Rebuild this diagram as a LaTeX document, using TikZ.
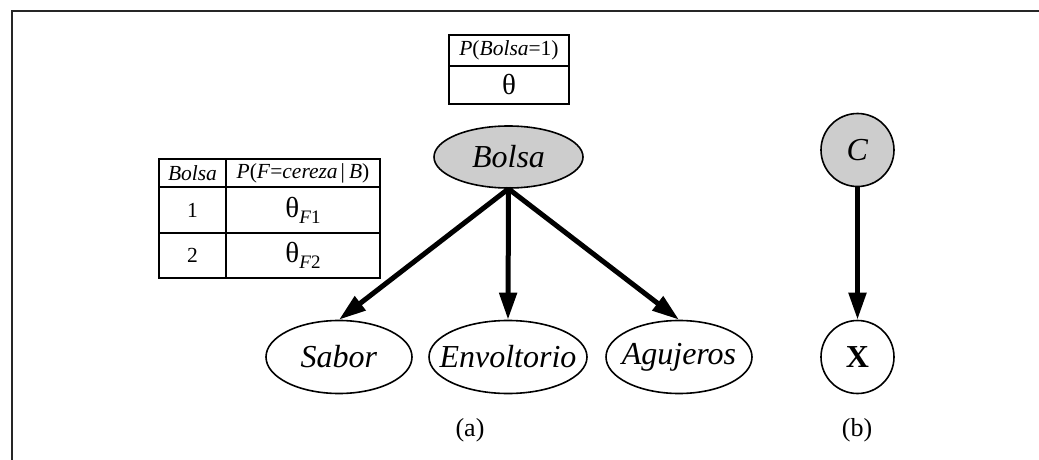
\documentclass[tikz,border=0pt]{standalone}
\usepackage{fontspec}
\setmainfont{Liberation Serif}
\usetikzlibrary{arrows.meta,shapes.geometric}
\definecolor{nodegray}{RGB}{205,205,205}
\tikzset{
  varnode/.style={ellipse,draw=black,line width=1.6pt,inner sep=0pt,minimum height=73pt,
    font=\fontsize{32}{36}\selectfont},
  cell/.style={rectangle,draw=black,line width=1.2pt,inner sep=0pt,font=\fontsize{21.5}{24}\selectfont},
  thetacell/.style={cell,font=\fontsize{29}{30}\selectfont},
  bigarrow/.style={line width=5pt,-{Triangle[length=27pt,width=17pt]}},
  sublabel/.style={font=\fontsize{26}{28}\selectfont},
  frameline/.style={line width=1.6pt,draw=black!85}
}
\newcommand{\thsub}[1]{θ\raisebox{-6pt}{\fontsize{19}{20}\selectfont\textit{F}#1}}
\newcommand{\nolen}[1]{\makebox[0pt][c]{#1}}
\begin{document}
\begin{tikzpicture}[x=1pt,y=-1pt]
\useasboundingbox (0,0) rectangle (1039,460);
\coordinate (fa) at (12,460);
\coordinate (fb) at (12,11);
\coordinate (fc) at (1039,11);
\draw[frameline] (fa) -- (fb) -- (fc);

% top table
\node[cell,minimum width=120pt,minimum height=31pt] (t1) at (509,50.5) {\textit{P}(\textit{Bolsa}=1)};
\node[thetacell,minimum width=120pt,minimum height=38pt] (t2) at (509,85) {θ};

% left table
\node[cell,minimum width=67pt,minimum height=28pt] (h1) at (192.5,173) {\textit{Bolsa}};
\node[cell,minimum width=154pt,minimum height=28pt] (h2) at (303,173) {\textit{P}(\textit{F}=\textit{cereza}\hspace{3pt}|\hspace{4pt}\textit{B})};
\node[cell,minimum width=67pt,minimum height=46pt] (r11) at (192.5,210) {1};
\node[thetacell,minimum width=154pt,minimum height=46pt] (r12) at (303,210) {\thsub{1}};
\node[cell,minimum width=67pt,minimum height=45pt] (r21) at (192.5,255.5) {2};
\node[thetacell,minimum width=154pt,minimum height=45pt] (r22) at (303,255.5) {\thsub{2}};

% network (a)
\node[varnode,fill=nodegray,minimum width=149pt,minimum height=62pt] (bolsa) at (508.5,157) {\nolen{\textit{Bolsa}}};
\node[varnode,minimum width=146pt] (sabor) at (339,357) {\nolen{\textit{Sabor}}};
\node[varnode,minimum width=158pt] (env) at (508,357) {\nolen{\textit{Envoltorio}}};
\node[varnode,minimum width=146pt] (agu) at (679,357) {\nolen{\textit{Agujeros}}};
\draw[bigarrow] (bolsa.south) -- (sabor.north);
\draw[bigarrow] (bolsa.south) -- (env.north);
\draw[bigarrow] (bolsa.south) -- (agu.north);
\node[sublabel] (la) at (470,430) {(a)};

% network (b)
\node[varnode,circle,fill=nodegray,minimum size=73pt] (c) at (857.5,150) {\nolen{\textit{C}}};
\node[varnode,circle,minimum size=73pt] (x) at (857.5,357) {\nolen{\textbf{X}}};
\draw[bigarrow] (c.south) -- (x.north);
\node[sublabel] (lb) at (857,430) {(b)};
\end{tikzpicture}
\end{document}
